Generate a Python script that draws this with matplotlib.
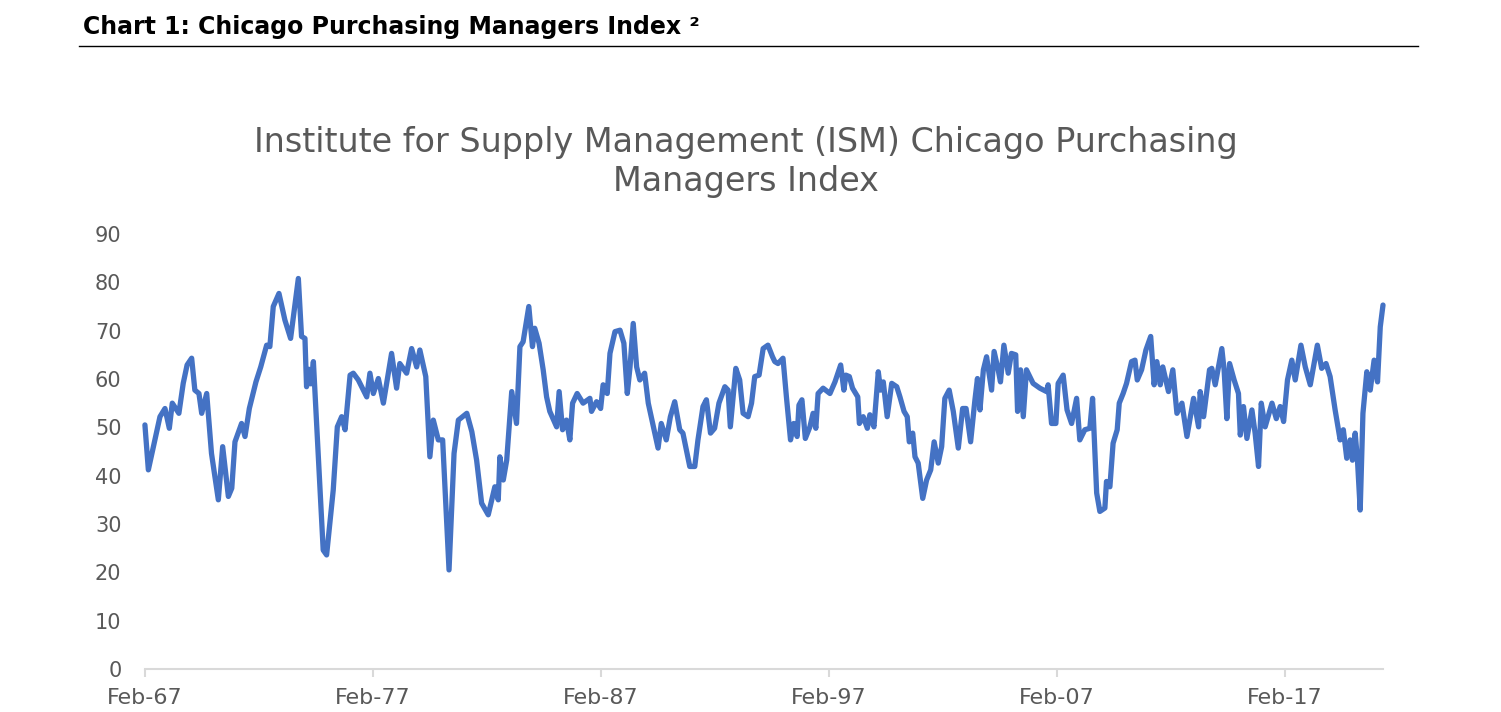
import matplotlib
matplotlib.use("Agg")
import matplotlib.pyplot as plt
from matplotlib.lines import Line2D

# ---- data (date as decimal year, index value) ----
dates = [
 1967.08,1967.23,1967.74,1967.96,1968.15,1968.28,1968.57,1968.76,1968.93,1969.13,
 1969.27,1969.45,1969.57,1969.79,1970.00,1970.30,1970.49,1970.74,1970.89,1971.03,
 1971.32,1971.47,1971.66,1971.95,1972.16,1972.42,1972.56,1972.71,1972.96,1973.22,
 1973.47,1973.81,1973.95,1974.10,1974.17,1974.28,1974.36,1974.47,1974.90,1975.05,
 1975.34,1975.52,1975.71,1975.86,1976.08,1976.22,1976.44,1976.81,1976.95,1977.10,
 1977.32,1977.54,1977.71,1977.90,1978.12,1978.26,1978.56,1978.78,1979.00,1979.14,
 1979.40,1979.58,1979.73,1979.95,1980.14,1980.42,1980.64,1980.83,1981.20,1981.42,
 1981.63,1981.85,1982.14,1982.43,1982.58,1982.65,1982.80,1982.95,1983.17,1983.38,
 1983.53,1983.67,1983.92,1984.08,1984.18,1984.37,1984.55,1984.70,1984.84,1985.14,
 1985.25,1985.40,1985.57,1985.72,1985.84,1986.04,1986.30,1986.60,1986.67,1986.89,
 1987.07,1987.18,1987.36,1987.48,1987.70,1987.92,1988.09,1988.24,1988.36,1988.50,
 1988.65,1988.79,1989.00,1989.16,1989.37,1989.59,1989.73,1989.95,1990.13,1990.32,
 1990.54,1990.68,1990.98,1991.20,1991.34,1991.56,1991.71,1991.89,1992.07,1992.26,
 1992.52,1992.66,1992.76,1993.00,1993.17,1993.32,1993.54,1993.69,1993.83,1994.02,
 1994.20,1994.41,1994.61,1994.71,1994.85,1995.07,1995.22,1995.40,1995.54,1995.69,
 1995.77,1995.90,1996.05,1996.25,1996.39,1996.51,1996.61,1996.83,1997.13,1997.35,
 1997.60,1997.74,1997.83,1997.98,1998.12,1998.35,1998.42,1998.59,1998.77,1998.88,
 1999.06,1999.25,1999.35,1999.47,1999.64,1999.84,2000.06,2000.20,2000.38,2000.52,
 2000.61,2000.76,2000.86,2001.00,2001.20,2001.37,2001.55,2001.70,2001.88,2002.03,
 2002.17,2002.36,2002.54,2002.76,2002.95,2003.10,2003.30,2003.49,2003.60,2003.71,
 2003.86,2004.00,2004.22,2004.33,2004.51,2004.61,2004.76,2004.95,2005.09,2005.28,
 2005.36,2005.49,2005.61,2005.75,2006.04,2006.34,2006.63,2006.70,2006.85,2007.04,
 2007.14,2007.36,2007.53,2007.73,2007.95,2008.09,2008.31,2008.53,2008.65,2008.83,
 2008.97,2009.19,2009.26,2009.41,2009.55,2009.73,2009.82,2009.99,2010.14,2010.36,
 2010.51,2010.61,2010.80,2010.99,2011.20,2011.35,2011.47,2011.62,2011.73,2011.98,
 2012.17,2012.35,2012.57,2012.79,2013.08,2013.30,2013.37,2013.52,2013.78,2013.88,
 2014.03,2014.32,2014.42,2014.54,2014.66,2014.86,2015.05,2015.13,2015.27,2015.42,
 2015.64,2015.78,2015.93,2016.05,2016.22,2016.52,2016.71,2016.88,2017.03,2017.20,
 2017.39,2017.54,2017.79,2017.98,2018.20,2018.51,2018.70,2018.89,2019.07,2019.29,
 2019.51,2019.65,2019.80,2019.95,2020.05,2020.17,2020.27,2020.39,2020.51,2020.68,
 2020.83,2021.00,2021.15,2021.27,2021.39,
]
pmi = [
 50.5,41.2,52.2,53.9,49.8,55.0,52.9,59.1,62.9,64.3,
 57.7,57.0,52.9,57.0,44.6,35.0,46.0,35.7,37.4,47.0,
 50.8,48.1,53.9,59.4,62.5,67.0,66.7,75.0,77.7,72.2,
 68.4,80.8,68.8,68.4,58.4,62.0,59.0,63.6,24.6,23.6,
 37.0,50.1,52.2,49.5,60.8,61.2,59.8,56.3,61.2,57.0,
 60.1,55.0,59.8,65.3,58.1,63.2,61.2,66.3,62.5,66.0,
 60.5,43.9,51.5,47.4,47.4,20.5,44.6,51.5,52.9,49.1,
 43.2,34.3,31.9,37.7,35.0,43.9,39.1,43.2,57.4,50.8,
 66.7,67.7,75.0,66.7,70.5,67.4,61.9,56.3,53.3,50.1,
 57.4,49.5,51.5,47.4,55.0,57.0,55.0,56.0,53.3,55.3,
 53.9,58.8,57.0,65.3,69.8,70.1,67.4,57.0,62.5,71.5,
 62.5,59.8,61.2,55.0,50.5,45.7,50.8,47.4,52.2,55.3,
 49.5,48.8,41.9,41.9,47.4,54.3,55.7,48.8,49.8,55.0,
 58.4,57.7,50.1,62.2,59.8,52.9,52.2,55.0,60.5,60.8,
 66.3,67.0,64.6,63.6,63.2,64.3,56.3,47.4,50.8,48.1,
 54.6,55.7,47.7,50.1,52.9,49.8,57.0,58.1,57.0,59.4,
 62.9,57.7,60.8,60.5,58.1,56.3,50.8,52.2,49.8,52.6,
 50.1,61.5,57.7,59.4,52.2,59.1,58.4,56.3,53.3,52.2,
 47.0,48.8,43.9,42.6,35.3,39.1,41.2,47.0,42.6,46.0,
 56.0,57.7,53.3,45.7,53.9,53.9,47.0,55.7,60.1,53.6,
 61.9,64.6,57.7,65.7,61.9,59.4,67.0,61.2,65.3,65.0,
 53.3,61.9,52.2,61.9,59.1,58.1,57.4,58.8,50.8,50.8,
 59.1,60.8,53.6,50.8,56.0,47.4,49.5,49.8,56.0,36.4,
 32.6,33.3,38.8,37.7,46.7,49.5,55.0,57.0,59.1,63.6,
 63.9,59.8,61.9,66.0,68.8,58.8,63.6,58.8,62.5,57.4,
 61.9,52.9,55.0,48.1,56.0,50.1,57.4,52.2,61.9,62.2,
 58.8,66.3,61.9,51.8,63.2,59.8,57.0,48.4,54.3,47.7,
 53.6,48.8,41.9,55.0,50.1,55.0,51.8,54.3,51.2,59.8,
 63.9,59.8,67.0,62.5,58.8,67.0,62.2,63.2,60.5,53.6,
 47.4,49.5,43.6,47.4,43.2,48.8,43.2,32.9,52.9,61.5,
 57.7,63.9,59.4,70.8,75.3,
]
tick_dates = [1967 + 1/12, 1977 + 1/12, 1987 + 1/12, 1997 + 1/12, 2007 + 1/12, 2017 + 1/12]
tick_labels = ["Feb-67", "Feb-77", "Feb-87", "Feb-97", "Feb-07", "Feb-17"]
y_ticks = [0, 10, 20, 30, 40, 50, 60, 70, 80, 90]

header = "Chart 1: Chicago Purchasing Managers Index \u00b2"
title = "Institute for Supply Management (ISM) Chicago Purchasing\nManagers Index"

W, H = 1501, 712
fig = plt.figure(figsize=(W / 100, H / 100), dpi=100)
fig.patch.set_facecolor("white")

ax = fig.add_axes([145 / W, 1 - 669 / H, (1383 - 145) / W, (669 - 234) / H])
ax.plot(dates, pmi, color="#4472C4", linewidth=3.8, solid_joinstyle="round",
        solid_capstyle="round", clip_on=False)
ax.set_xlim(1967 + 1/12, 2021.39)
ax.set_ylim(0, 90)

for s in ["top", "right", "left"]:
    ax.spines[s].set_visible(False)
ax.spines["bottom"].set_color("#d9d9d9")
ax.spines["bottom"].set_linewidth(1.5)

grey = "#595959"
ax.set_yticks(y_ticks)
ax.set_yticklabels([str(v) for v in y_ticks])
ax.tick_params(axis="y", length=0, pad=17, labelsize=15, labelcolor=grey)
ax.set_xticks(tick_dates)
ax.set_xticklabels(tick_labels)
ax.tick_params(axis="x", length=6, width=1.5, color="#d9d9d9", pad=8,
               labelsize=16, labelcolor=grey, direction="out")

fig.text(83 / W, 1 - 27 / H, header, fontsize=17, fontweight="bold",
         color="black", ha="left", va="center")
fig.add_artist(Line2D([79 / W, 1418 / W], [1 - 46 / H, 1 - 46 / H],
                      color="black", linewidth=1.0))
fig.text(746 / W, 1 - 162 / H, title, fontsize=24, color=grey,
         ha="center", va="center", linespacing=1.25)

fig.savefig("out.png", dpi=100)
